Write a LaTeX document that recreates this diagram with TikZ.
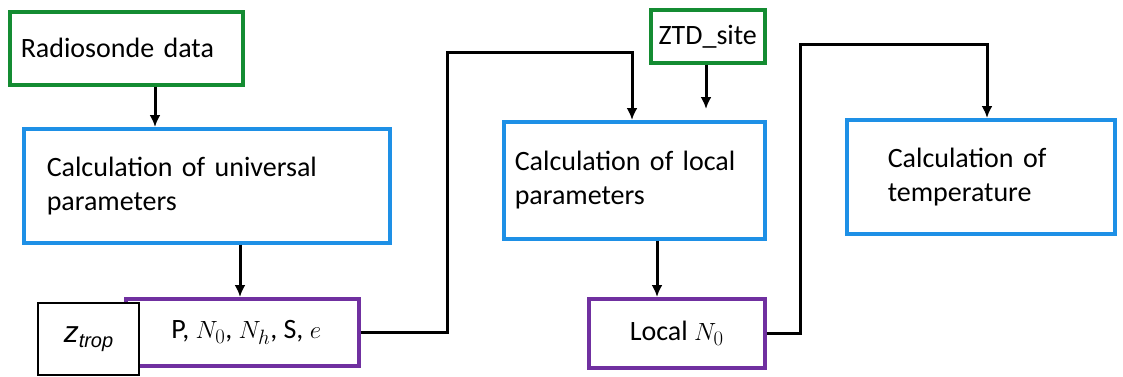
\documentclass[tikz,border=0pt]{standalone}
\usepackage{amsmath}
\usepackage{fontspec}
\setmainfont{Carlito}
\setsansfont{Liberation Sans}
\usetikzlibrary{positioning,arrows.meta}
\definecolor{boxgreen}{RGB}{20,140,50}
\definecolor{boxblue}{RGB}{30,144,230}
\definecolor{boxpurple}{RGB}{112,48,160}
\tikzset{%
  box/.style={draw, rectangle, line width=3.5pt, anchor=north west, inner ysep=0pt,
    font=\fontsize{28}{34}\selectfont},
  inbox/.style={box, draw=boxgreen, align=left},% input data
  calcbox/.style={box, draw=boxblue, align=left},% calculation step
  outbox/.style={box, draw=boxpurple, inner xsep=0pt},% results
  flow/.style={line width=3pt, -{Latex[length=12pt,width=11pt]}}% connector
}
\begin{document}
\begin{tikzpicture}[x=1pt, y=-1pt]
\useasboundingbox (0,0) rectangle (1123,376);
% inputs
\node[inbox, inner xsep=11pt, text width=211pt, minimum height=73pt] (radio) at (8,10) {Radiosonde data};
\node[inbox, inner xsep=0pt, minimum width=114pt, minimum height=53pt] (ztd) at (649,8) {ZTD\_site};
% calculations
\node[calcbox, inner xsep=23pt, text width=320pt, minimum height=114pt] (univ) at (22,127)
  {Calculation of universal\\parameters};
\node[calcbox, inner xsep=11pt, text width=239pt, minimum height=117pt] (localcalc) at (502,120)
  {Calculation of local\\parameters};
\node[calcbox, inner xsep=41pt, text width=186pt, minimum height=114pt] (tempcalc) at (845,118)
  {Calculation of\\temperature};
% results
\node[outbox, minimum width=233pt, minimum height=67pt] (univpar) at (124,297)
  {\hspace{8pt}P, $N_0$, $N_h$, S, $e$};
\node[outbox, minimum width=176pt, minimum height=69pt] (localpar) at (587,297) {Local $N_0$};
\node[draw, line width=2pt, fill=white, anchor=north west, minimum width=101pt, minimum height=72pt]
  (ztrop) at (37,302) {\sffamily\itshape\fontsize{30}{30}\selectfont z\raisebox{-5pt}{\fontsize{20}{20}\selectfont trop}};
% connectors
\coordinate (ztdend) at (706,109);
\draw[flow] (radio.south -| 155,0) -- (univ.north -| 155,0);
\draw[flow] (univ.south -| 240,0) -- (univpar.north -| 240,0);
\draw[flow] (univpar.east) -- (447,0 |- univpar.east) -- (447,52) -- (632,52) -- (localcalc.north -| 632,0);
\draw[flow] (ztd.south -| ztdend) -- (ztdend);
\draw[flow] (localcalc.south -| 657,0) -- (localpar.north -| 657,0);
\draw[flow] (localpar.east) -- (800,0 |- localpar.east) -- (800,44) -- (987,44) -- (tempcalc.north -| 987,0);
\end{tikzpicture}
\end{document}
